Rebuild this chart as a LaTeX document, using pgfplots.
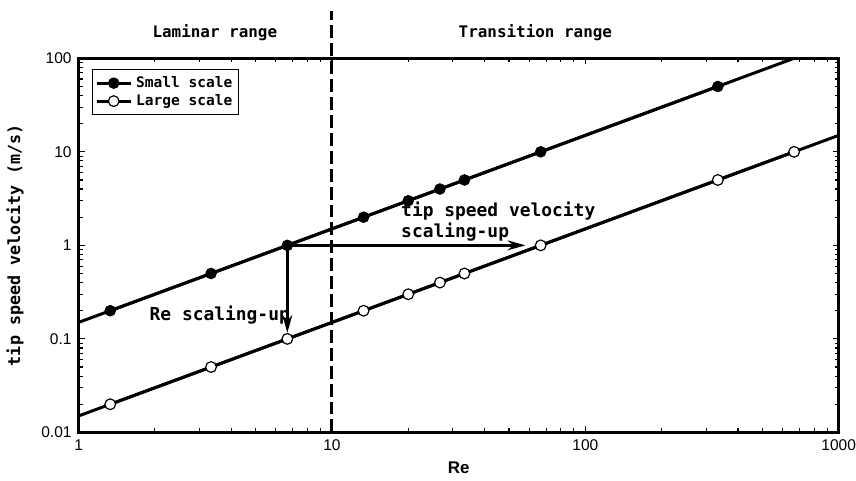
\documentclass[border=0pt]{standalone}
\usepackage{fontspec}
\setmainfont{Liberation Sans}
\newfontfamily\mono{DejaVu Sans Mono}
\usepackage{pgfplots}
\pgfplotsset{compat=1.18}
\usetikzlibrary{arrows.meta}

% measured tip speeds (m/s) against Reynolds number
\pgfplotstableread{
Re      u
1.333   0.2
3.333   0.5
6.667   1
13.33   2
20      3
26.67   4
33.33   5
66.67   10
333.3   50
}\smallscale
\pgfplotstableread{
Re      u
1.333   0.02
3.333   0.05
6.667   0.1
13.33   0.2
20      0.3
26.67   0.4
33.33   0.5
66.67   1
333.3   5
666.7   10
}\largescale

\begin{document}
\begin{tikzpicture}
\begin{loglogaxis}[
  scale only axis,
  width=382pt, height=188pt,
  xmin=1, xmax=1000, ymin=0.01, ymax=100,
  clip=false,
  axis line style={line width=1.5pt},
  tick style={black, line width=0.6pt},
  major tick length=3pt, minor tick length=2pt,
  tick align=inside,
  xtick={1,10,100,1000}, xticklabels={1,10,100,1000},
  ytick={0.01,0.1,1,10,100}, yticklabels={0.01,0.1,1,10,100},
  /pgf/number format/assume math mode=true,
  tick label style={font=\fontsize{7.8}{9}\selectfont},
  xticklabel style={inner xsep=0pt},
  xlabel={\textbf{Re}},
  xlabel style={font=\fontsize{8.5}{10}\selectfont, yshift=1pt},
  ylabel={\mono\bfseries tip speed velocity (m/s)},
  ylabel style={font=\fontsize{8.4}{10}\selectfont, yshift=2pt},
  legend style={at={(0.018,0.971)}, anchor=north west,
    draw=black, line width=0.6pt, inner sep=1.2pt,
    font=\mono\bfseries\fontsize{7.3}{8}\selectfont,
    row sep=-2pt},
  legend cell align=left,
]
% fitted lines across the range
\addplot[black, line width=1.5pt, forget plot] coordinates {(1,0.15) (666.7,100)};
\addplot[black, line width=1.5pt, forget plot] coordinates {(1,0.015) (1000,15)};
% data
\addplot[black, line width=1.5pt, mark=*, mark size=2.6pt,
  mark options={solid, fill=black, line width=0.6pt}] table[x=Re, y=u] {\smallscale};
\addlegendentry{Small scale}
\addplot[black, line width=1.5pt, mark=*, mark size=2.7pt,
  mark options={solid, fill=white, line width=0.6pt}] table[x=Re, y=u] {\largescale};
\addlegendentry{Large scale}

% boundary between laminar and transition regimes
\draw[black, line width=1.5pt, dash pattern=on 6.5pt off 2.5pt]
  (axis cs:10,0.01) -- (axis cs:10,320);
% a little white space above the dashed line
\path (axis cs:10,420) -- (axis cs:10,320);
\node[font=\mono\bfseries\fontsize{8}{10}\selectfont] at (axis cs:3.45,186) {Laminar range};
\node[font=\mono\bfseries\fontsize{8}{10}\selectfont] at (axis cs:63.5,186) {Transition range};

% scaling-up arrows
\draw[line width=1.2pt, -{Stealth[length=9pt,width=5pt]}] (axis cs:6.667,1) -- (axis cs:6.667,0.116);
\draw[line width=1.2pt, -{Stealth[length=9pt,width=5pt]}] (axis cs:6.667,1) -- (axis cs:58,1);
\node[anchor=west, font=\mono\bfseries\fontsize{9}{10}\selectfont] at (axis cs:1.79,0.18) {Re scaling-up};
\node[anchor=west, align=left, inner sep=0pt,
  font=\mono\bfseries\fontsize{9}{9}\selectfont] at (axis cs:18.7,1.8) {tip speed velocity\\scaling-up};
\end{loglogaxis}
\end{tikzpicture}
\end{document}
